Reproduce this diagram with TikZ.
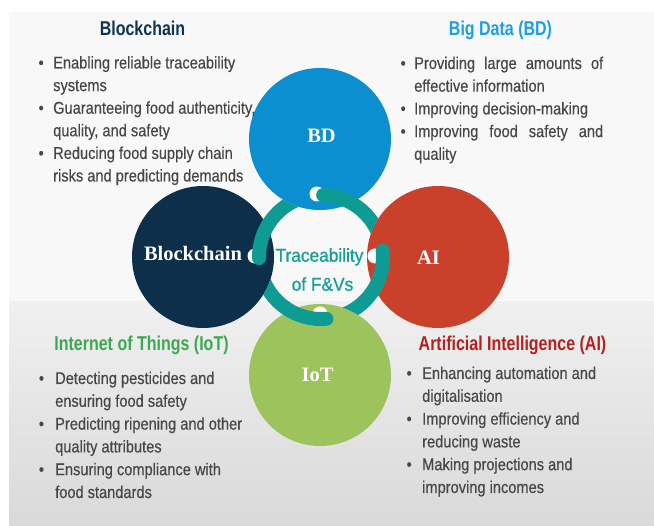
\documentclass[tikz,border=0pt]{standalone}
\usepackage{fontspec}
\setmainfont{Liberation Sans}[FakeStretch=0.86,FakeBold=0.35]
\newfontfamily\headfont{Liberation Sans}[FakeStretch=0.80]
\newfontfamily\ctrfont{Liberation Sans}[FakeStretch=0.93,FakeBold=0.8]
\newfontfamily\circfont{Liberation Serif}
\usetikzlibrary{calc}
\definecolor{bdblue}{HTML}{0B8FD1}
\definecolor{bcnavy}{HTML}{0D2F4A}
\definecolor{aired}{HTML}{C9412B}
\definecolor{iotgreen}{HTML}{9CC35C}
\definecolor{ringteal}{HTML}{0E9B94}
\definecolor{ctrteal}{HTML}{16A096}
\definecolor{hbc}{HTML}{0F3550}
\definecolor{hbd}{HTML}{1E9FE3}
\definecolor{hiot}{HTML}{3DA84F}
\definecolor{hai}{HTML}{B3201E}
\definecolor{bodygray}{HTML}{474747}
\definecolor{paneltop}{HTML}{F8F8F8}
\definecolor{panelmid}{HTML}{F0F0F0}
\definecolor{panelbot}{HTML}{D9D9D9}
\newcommand\ringseg[6]{%
  \fill[white] (#5,#6) circle (7.5);
  \begin{scope}
    \clip (-10,-10) -- (700,-10) -- (700,600) -- (-10,600) -- cycle
          ($(#3,#4)+(71,0)$) arc[start angle=0,end angle=-360,radius=71];
    \draw[ringline] ($(rc)+(#1:62)$) arc[start angle=#1,end angle=#2,radius=62];
  \end{scope}}
\begin{document}
\begin{tikzpicture}[x=1pt,y=-1pt,
  disc/.style={circle, minimum size=142pt, inner sep=0pt, draw=none},
  ringline/.style={draw=ringteal, line width=14pt, line cap=round},
  clab/.style={anchor=base, inner sep=0pt, text=white, font=\circfont\bfseries\fontsize{20.5}{24}\selectfont},
  ctr/.style={anchor=base, inner sep=0pt, text=ctrteal, font=\ctrfont\fontsize{18.6}{22}\selectfont},
  head/.style={anchor=base, inner sep=0pt, font=\headfont\bfseries\fontsize{20}{24}\selectfont},
  body/.style={anchor=base west, inner sep=0pt, text=bodygray, font=\fontsize{17}{20}\selectfont},
  bul/.style={anchor=base west, inner sep=0pt, text=bodygray, font=\fontsize{17}{20}\selectfont}]
\useasboundingbox (0,0) rectangle (654,526);
\fill[white] (0,0) rectangle (654,526);
\fill[paneltop] (9,12) rectangle (654,302);
\shade[top color=panelmid, bottom color=panelbot] (9,302) rectangle (654,526);

% circles
\node[disc, fill=bdblue] (bd) at (320,139) {};
\node[disc, fill=bcnavy] (bc) at (203,257) {};
\node[disc, fill=aired] (ai) at (438,257) {};
\node[disc, fill=iotgreen] (iot) at (320,375) {};

% ring
\coordinate (rc) at (321,257);
\ringseg{272}{350}{438}{257}{317}{194}
\ringseg{-6}{75}{320}{375}{375}{256}
\ringseg{85}{165}{203}{257}{320}{314}
\ringseg{179}{255}{320}{139}{255}{256}

% circle labels
\node[clab] (bdl) at (321.5,143) {BD};
\node[clab] (bcl) at (193,260.7) {Blockchain};
\node[clab] (ail) at (428.5,265) {AI};
\node[clab] (iotl) at (317.6,381.7) {IoT};

% centre text
\node[ctr] (tr1) at (319.5,261.7) {Traceability};
\node[ctr] (tr2) at (322.5,290.7) {of F\&Vs};

% headings
\node[head, text=hbc] (hbcn) at (142.5,36) {Blockchain};
\node[head, text=hbd] (hbdn) at (500.5,36) {Big Data (BD)};
\node[head, text=hiot] (hiotn) at (141.5,350.7) {Internet of Things (IoT)};
\node[head, text=hai] (hain) at (512.5,350.7) {Artificial Intelligence (AI)};

% Blockchain list
\foreach \t [count=\i] in {Enabling reliable traceability, systems, {Guaranteeing food authenticity,}, {quality, and safety}, Reducing food supply chain, risks and predicting demands}
  \node[body] (bct\i) at (53,{68.5+22.6*(\i-1)}) {\t};
\foreach \i in {1,3,5}
  \node[bul] (bcb\i) at (38.4,{68.5+22.6*(\i-1)}) {\textbullet};

% BD list
\node[body] (bdt1) at (414,69) {\makebox[189pt][s]{Providing large amounts of}};
\node[body] (bdt2) at (414,91.7) {effective information};
\node[body] (bdt3) at (414,114.4) {Improving decision-making};
\node[body] (bdt4) at (414,137.1) {\makebox[189pt][s]{Improving food safety and}};
\node[body] (bdt5) at (414,159.8) {quality};
\node[bul] (bdb1) at (400.4,69) {\textbullet};
\node[bul] (bdb3) at (400.4,114.4) {\textbullet};
\node[bul] (bdb4) at (400.4,137.1) {\textbullet};

% IoT list
\foreach \t [count=\i] in {Detecting pesticides and, ensuring food safety, Predicting ripening and other, quality attributes, Ensuring compliance with, food standards}
  \node[body] (iott\i) at (55,{384+22.8*(\i-1)}) {\t};
\foreach \i in {1,3,5}
  \node[bul] (iotb\i) at (38.7,{384+22.8*(\i-1)}) {\textbullet};

% AI list
\foreach \t [count=\i] in {Enhancing automation and, digitalisation, Improving efficiency and, reducing waste, Making projections and, improving incomes}
  \node[body] (ait\i) at (422,{379+22.8*(\i-1)}) {\t};
\foreach \i in {1,3,5}
  \node[bul] (aib\i) at (406.4,{379+22.8*(\i-1)}) {\textbullet};
\end{tikzpicture}
\end{document}
